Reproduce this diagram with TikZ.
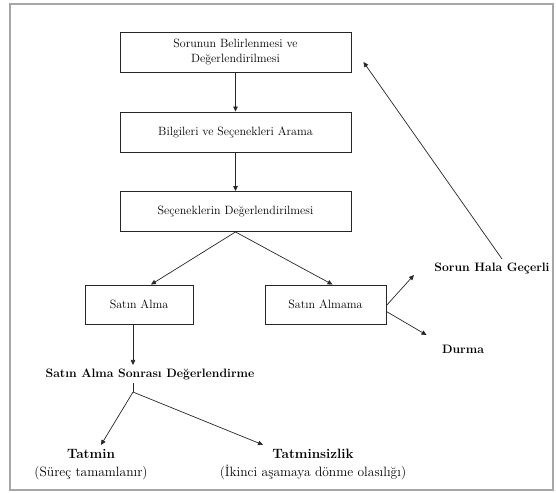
\documentclass[tikz,border=0pt]{standalone}
\usetikzlibrary{arrows.meta,calc}
\tikzset{
  stepbox/.style={draw=black!85,line width=0.9pt,inner sep=2pt,align=center,font=\fontsize{12}{14.5}\selectfont},
  plain/.style={align=center,font=\fontsize{13.5}{17.5}\selectfont},
  boldlbl/.style={align=center,font=\fontsize{12.2}{14}\selectfont\bfseries},
  conn/.style={draw=black!85,line width=0.7pt,-{Triangle[length=5pt,width=4.5pt]}},
  seg/.style={draw=black!85,line width=0.7pt}
}
\begin{document}
\begin{tikzpicture}[x=1pt,y=-1pt]
\useasboundingbox (0,0) rectangle (556,492);
\draw[black!35,line width=1.5pt] (10,4) rectangle (553,490);
\node[stepbox,minimum width=231pt,minimum height=40pt] (b1) at (235.5,52) {Sorunun Belirlenmesi ve\\Değerlendirilmesi};
\node[stepbox,minimum width=231pt,minimum height=40pt] (b2) at (235.5,132) {Bilgileri ve Seçenekleri Arama};
\node[stepbox,minimum width=231pt,minimum height=40pt] (b3) at (235.5,211.5) {Seçeneklerin Değerlendirilmesi};
\node[stepbox,minimum width=108pt,minimum height=39pt] (sa) at (139,304.5) {Satın Alma};
\node[stepbox,minimum width=121pt,minimum height=39pt] (sam) at (325.5,304.5) {Satın Almama};
\node[boldlbl] (shg) at (492,268) {Sorun Hala Geçerli};
\node[boldlbl] (durma) at (463,349) {Durma};
\node[boldlbl] (sasd) at (150,374) {Satın Alma Sonrası Değerlendirme};
\node[plain] (tatmin) at (91,464.5) {\textbf{Tatmin}\\(Süreç tamamlanır)};
\node[plain] (tatsiz) at (313,464.5) {\textbf{Tatminsizlik}\\(İkinci aşamaya dönme olasılığı)};
\coordinate (ret) at ([xshift=12pt,yshift=-10pt]b1.east);
\coordinate (fork) at ([xshift=-17pt,yshift=-9pt]sasd.south);
\draw[conn] (b1.south) -- (b2.north);
\draw[conn] (b2.south) -- (b3.north);
\draw[conn] (b3.south) -- ([xshift=12pt]sa.north);
\draw[conn] (b3.south) -- ([xshift=7pt]sam.north);
\draw[conn] ([yshift=-1pt]sam.east) -- ([xshift=-17pt,yshift=-7pt]shg.west);
\draw[conn] ([yshift=-7pt]sam.east) -- ([xshift=-12pt,yshift=14pt]durma.west);
\draw[conn] ([xshift=10pt]shg.north) -- (ret);
\draw[conn] ([xshift=-6pt]sa.south) -- ([xshift=-17pt]sasd.north);
\draw[seg] ([xshift=-17pt]sasd.south) -- (fork);
\draw[conn] (fork) -- ([xshift=10pt,yshift=1pt]tatmin.north);
\draw[conn] (fork) -- ([xshift=-50pt,yshift=1pt]tatsiz.north);
\end{tikzpicture}
\end{document}
